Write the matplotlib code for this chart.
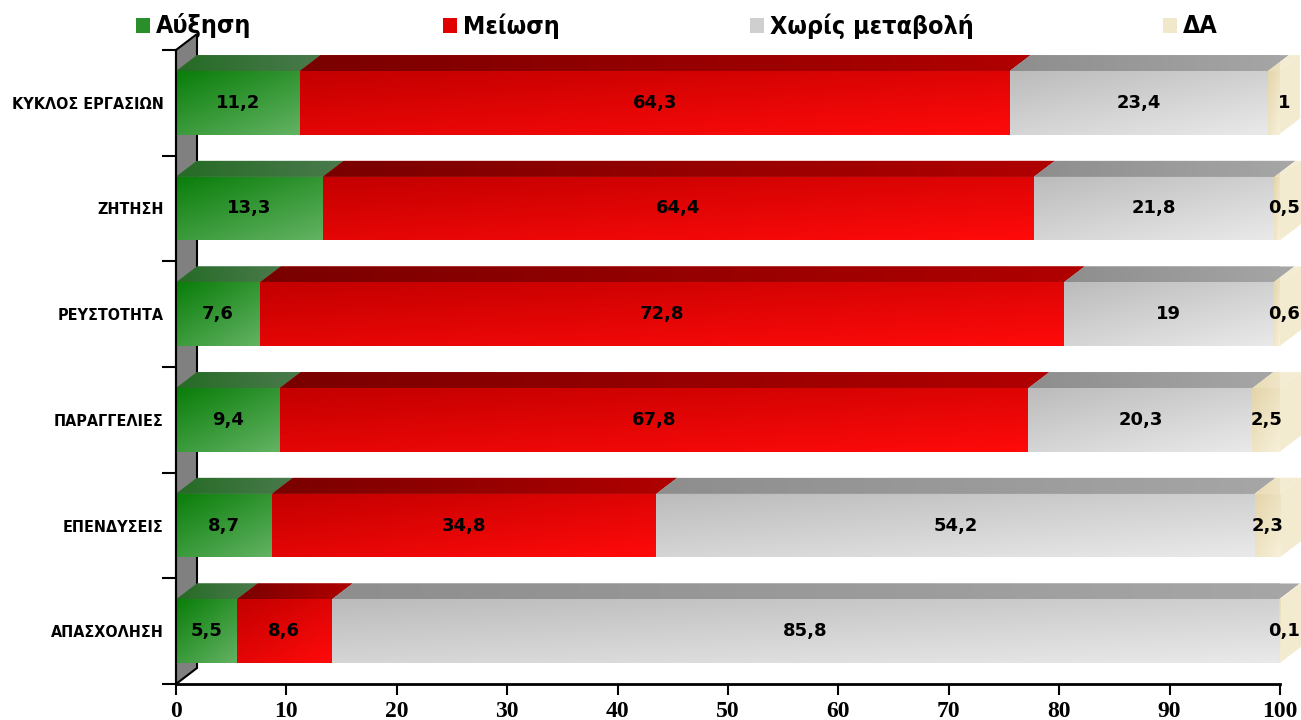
import numpy as np
import matplotlib
matplotlib.use("Agg")
import matplotlib.pyplot as plt
from matplotlib.patches import Polygon, Rectangle
from matplotlib.colors import LinearSegmentedColormap

categories = ["ΚΥΚΛΟΣ ΕΡΓΑΣΙΩΝ", "ΖΗΤΗΣΗ", "ΡΕΥΣΤΟΤΗΤΑ", "ΠΑΡΑΓΓΕΛΙΕΣ", "ΕΠΕΝΔΥΣΕΙΣ", "ΑΠΑΣΧΟΛΗΣΗ"]
series_names = ["Αύξηση", "Μείωση", "Χωρίς μεταβολή", "ΔΑ"]
increase = [11.2, 13.3, 7.6, 9.4, 8.7, 5.5]
decrease = [64.3, 64.4, 72.8, 67.8, 34.8, 8.6]
no_change = [23.4, 21.8, 19, 20.3, 54.2, 85.8]
dk = [1, 0.5, 0.6, 2.5, 2.3, 0.1]
x_ticks = [0, 10, 20, 30, 40, 50, 60, 70, 80, 90, 100]

series = [increase, decrease, no_change, dk]
# front gradient (dark, light), top face gradient, legend colour
front_cols = [("#0a7e0a", "#62b262"), ("#c40000", "#ff0a0a"), ("#bcbcbc", "#e9e9e9"), ("#e4d5aa", "#f7f0da")]
top_cols = [("#256b25", "#4a7a4c"), ("#7a0000", "#b00000"), ("#8e8e8e", "#a6a6a6"), ("#e9dcb6", "#f4ecd2")]
legend_cols = ["#2a8f2a", "#e00000", "#cfcfcf", "#f1e8cc"]
side_col = "#f3ebcf"

fig = plt.figure(figsize=(13.01, 7.2), dpi=100)
ax = fig.add_axes([176 / 1301, 1 - 684 / 720, (1280 - 176) / 1301, (684 - 50) / 720])
ax.set_xlim(0, 100)
ax.set_ylim(len(categories) - 0.5, -0.5)

# depth of the fake 3d in data units
px_x = 100 / (1280 - 176)
px_y = 6 / (684 - 50)
dx = 21 * px_x
dy = 16 * px_y
h = 0.6

# side wall
n = len(categories)
wall = Polygon([(0, n - 0.5), (0, -0.5), (dx, -0.5 - dy), (dx, n - 0.5 - dy)],
               closed=True, facecolor="#808080", edgecolor="black", lw=1.5, zorder=1, clip_on=False)
ax.add_patch(wall)


def gradient_fill(patch, c0, c1, x0, x1, y0, y1, wu=0.45, wv=0.55, z=3):
    cmap = LinearSegmentedColormap.from_list("g", [c0, c1])
    u = np.linspace(0, 1, 60)
    v = np.linspace(0, 1, 20)
    uu, vv = np.meshgrid(u, v)
    grad = wu * uu + wv * vv
    im = ax.imshow(grad, cmap=cmap, extent=(x0, x1, y1, y0), origin="upper",
                   aspect="auto", zorder=z, vmin=0, vmax=1, interpolation="bilinear")
    im.set_clip_path(patch)
    im.set_clip_on(True)


left = np.zeros(n)
for s, vals in enumerate(series):
    vals = np.array(vals, dtype=float)
    bars = ax.barh(range(n), vals, left=left, height=h, color="none", edgecolor="none", zorder=3)
    for i, b in enumerate(bars):
        l = left[i]
        w = vals[i]
        yt = i - h / 2
        yb = i + h / 2
        top = Polygon([(l, yt), (l + w, yt), (l + w + dx, yt - dy), (l + dx, yt - dy)],
                      closed=True, facecolor=top_cols[s][1], edgecolor="none", zorder=2 + s * 0.01,
                      clip_on=False)
        ax.add_patch(top)
        gradient_fill(top, top_cols[s][0], top_cols[s][1], l, l + w + dx, yt - dy, yt,
                      wu=1.0, wv=0.0, z=2 + s * 0.01 + 0.005)
        gradient_fill(b, front_cols[s][0], front_cols[s][1], l, l + w, yt, yb)
        if s == len(series) - 1:
            side = Polygon([(l + w, yt), (l + w + dx, yt - dy), (l + w + dx, yb - dy), (l + w, yb)],
                           closed=True, facecolor=side_col, edgecolor="none", zorder=2.1, clip_on=False)
            ax.add_patch(side)
        txt = ("%g" % w).replace(".", ",")
        cx = l + w / 2
        if w < 2:
            cx = 100.4
        ax.text(cx, i, txt, ha="center", va="center", fontsize=13, fontweight="bold",
                family="DejaVu Sans", zorder=5, clip_on=False)
    left = left + vals

# axes styling
for sp in ["top", "right"]:
    ax.spines[sp].set_visible(False)
ax.spines["left"].set_linewidth(1.5)
ax.spines["bottom"].set_linewidth(2)
ax.spines["left"].set_zorder(4)
ax.set_xticks(x_ticks)
ax.set_xticklabels([str(t) for t in x_ticks], fontsize=17, fontweight="bold", family="Liberation Serif")
ax.tick_params(axis="x", length=8, width=1.5, pad=4)
ax.set_yticks(range(n))
ax.set_yticklabels(categories, fontsize=11.5, fontweight="bold", family="DejaVu Sans",
                   fontstretch="condensed")
ax.tick_params(axis="y", length=0, pad=16 - 7)
ax.set_yticks(np.arange(-0.5, n, 1), minor=True)
ax.tick_params(axis="y", which="minor", length=10, width=1.5)

# legend drawn across the top
leg_x = [136, 443, 750, 1163]
for k, name in enumerate(series_names):
    x0 = leg_x[k] / 1301
    fig.patches.append(Rectangle((x0, 1 - 33 / 720), 14 / 1301, 15 / 720, transform=fig.transFigure,
                                 facecolor=legend_cols[k], edgecolor="none"))
    fig.text(x0 + 20 / 1301, 1 - 26 / 720, name, fontsize=18, fontweight="bold", family="DejaVu Sans",
             fontstretch="condensed", ha="left", va="center")

fig.savefig("out.png", dpi=100)
